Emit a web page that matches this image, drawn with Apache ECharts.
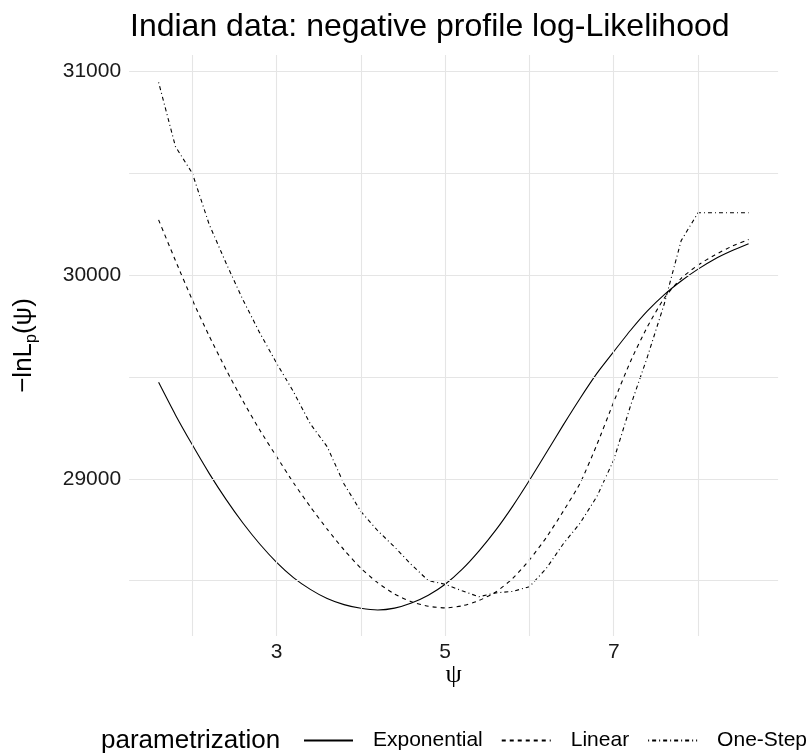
<!DOCTYPE html>
<html>
<head>
<meta charset="utf-8">
<script src="https://cdn.jsdelivr.net/npm/echarts@6/dist/echarts.min.js"></script>
<style>
html,body{margin:0;padding:0;background:#fff;}
#chart{width:810px;height:755px;}
</style>
</head>
<body>
<div id="chart"></div>
<script>
const psi = [1.6,1.8,2.0,2.2,2.4,2.6,2.8,3.0,3.2,3.4,3.6,3.8,4.0,4.2,4.4,4.6,4.8,5.0,5.2,5.4,5.6,5.8,6.0,6.2,6.4,6.6,6.8,7.0,7.2,7.4,7.6,7.8,8.0,8.2,8.4,8.6];
const exponential = [29474,29314,29167,29027,28899,28783,28680,28590,28515,28457,28412,28382,28364,28356,28365,28390,28428,28482,28555,28645,28748,28865,28993,29128,29264,29395,29518,29625,29730,29825,29905,29972,30030,30080,30120,30155];
const linear = [30272,30072,29879,29702,29537,29383,29240,29109,28981,28863,28753,28651,28561,28489,28434,28396,28374,28366,28376,28402,28444,28510,28602,28712,28840,28978,29168,29378,29578,29748,29888,29985,30050,30100,30142,30176];
const oneStep = [30948,30632,30501,30250,30060,29880,29717,29568,29428,29270,29158,28975,28840,28745,28665,28578,28500,28482,28450,28421,28440,28447,28470,28560,28680,28782,28913,29093,29360,29600,29860,30170,30307,30307,30307,30307];
const seriesNames = ['Exponential','Linear','One-Step'];
const xTickLabels = [3,5,7];
const yTickLabels = [29000,30000,31000];
const xGrid = [2,3,4,5,6,7,8];
const yGrid = [28500,29000,29500,30000,30500,31000];

const chart = echarts.init(document.getElementById('chart'));
const font = 'Liberation Sans, Arial, Helvetica, sans-serif';
const pairs = arr => psi.map((p,i)=>[p,arr[i]]);
const dashes = ['solid',[4,4],[1,3,4,3]];
const smooths = [0.2,0.2,false];
const values = [exponential, linear, oneStep];

const series = [{
  name:'grid', type:'line', data:[[psi[0],exponential[0]]], symbol:'none', silent:true, z:1,
  lineStyle:{opacity:0},
  markLine:{
    silent:true, symbol:'none', animation:false,
    label:{show:false},
    lineStyle:{color:'#e5e5e5', width:1.1, type:'solid'},
    data: xGrid.map(v=>({xAxis:v})).concat(yGrid.map(v=>({yAxis:v})))
  }
}];
seriesNames.forEach((n,i)=>{
  series.push({
    name:n, type:'line', data:pairs(values[i]), symbol:'none', showSymbol:false, z:3,
    smooth:smooths[i],
    lineStyle:{color:'#000', width:1.1, type:dashes[i]},
    itemStyle:{color:'#000'}
  });
});

chart.setOption({
  animation:false,
  backgroundColor:'#fff',
  title:[{
    text:'Indian data: negative profile log-Likelihood',
    left:130, top:11, padding:0,
    textStyle:{fontFamily:font, fontSize:32, fontWeight:'normal', color:'#000'}
  },{
    text:'parametrization',
    left:101, top:728, padding:0,
    textStyle:{fontFamily:font, fontSize:26, fontWeight:'normal', color:'#000'}
  }],
  legend:{
    data:seriesNames,
    left:303, top:730, width:700, padding:0, itemWidth:49, itemHeight:20, itemGap:18,
    itemStyle:{opacity:0},
    textStyle:{fontFamily:font, fontSize:21, color:'#000', padding:[0,0,0,15]}
  },
  grid:{left:129.1, width:649, top:55, height:581, containLabel:false, outerBoundsMode:'none'},
  xAxis:{
    type:'value', min:1.25, max:8.95,
    name:'ψ', nameLocation:'middle', nameGap:26, nameMoveOverlap:false,
    nameTextStyle:{fontFamily:'Liberation Serif, DejaVu Serif, serif', fontSize:26, color:'#000'},
    axisLine:{show:false}, axisTick:{show:false}, splitLine:{show:false},
    axisLabel:{customValues:xTickLabels, fontFamily:font, fontSize:21, color:'#1a1a1a', margin:6, formatter:v=>String(v)}
  },
  yAxis:{
    type:'value', min:28228, max:31082,
    name:'{a|−lnL}{b|p}{a|(ψ)}', nameLocation:'middle', nameGap:90, nameRotate:90, nameMoveOverlap:false,
    nameTextStyle:{
      color:'#000',
      rich:{
        a:{fontFamily:font, fontSize:26, lineHeight:30, color:'#000'},
        b:{fontFamily:font, fontSize:16, lineHeight:16, verticalAlign:'bottom', color:'#000'}
      }
    },
    axisLine:{show:false}, axisTick:{show:false}, splitLine:{show:false},
    axisLabel:{customValues:yTickLabels, fontFamily:font, fontSize:21, color:'#1a1a1a', margin:8, formatter:v=>String(v)}
  },
  series:series
});
</script>
</body>
</html>
